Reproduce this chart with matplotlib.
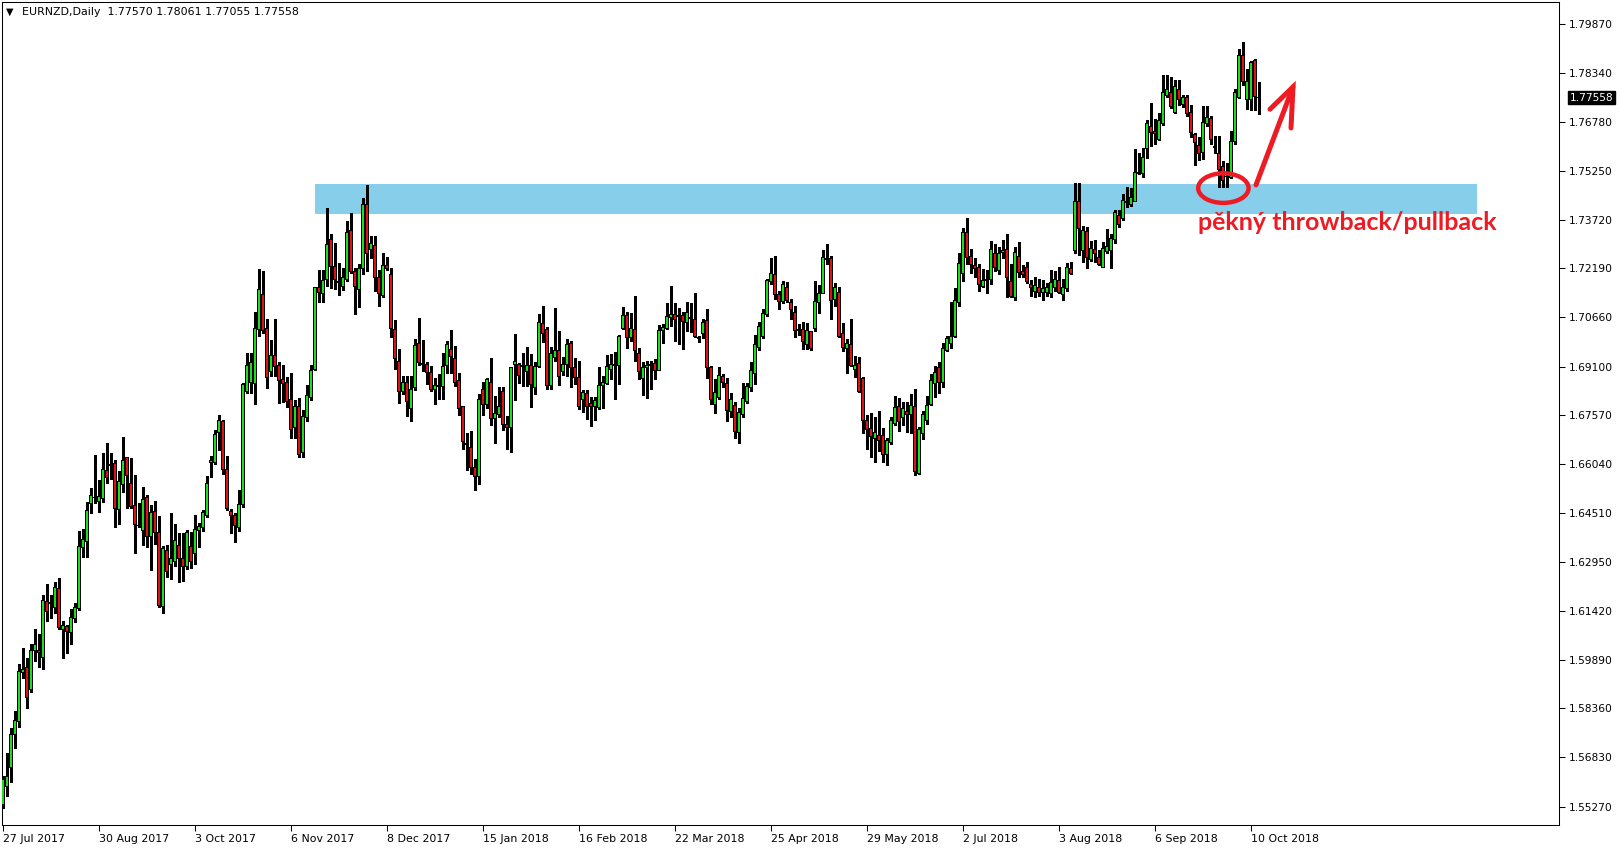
import matplotlib
matplotlib.use("Agg")
import matplotlib.pyplot as plt
from matplotlib.patches import Ellipse, Rectangle
import pandas as pd

# EURNZD daily, 27 Jul 2017 - 12 Oct 2018 (market closed 25 Dec and 1 Jan)
symbol = "EURNZD,Daily"
first_day = "2017-07-27"
last_day = "2018-10-12"
closed_days = ["2017-12-25", "2018-01-01"]

opens = [
    1.5532, 1.5589, 1.5651, 1.5752, 1.5793, 1.5947, 1.5963, 1.5896, 1.6016, 1.6019,
    1.5994, 1.6170, 1.6167, 1.6154, 1.6211, 1.6085, 1.6094, 1.6073, 1.6117, 1.6148,
    1.6340, 1.6359, 1.6481, 1.6497, 1.6487, 1.6494, 1.6582, 1.6601, 1.6604, 1.6462,
    1.6538, 1.6623, 1.6541, 1.6472, 1.6412, 1.6396, 1.6500, 1.6377, 1.6456, 1.6390,
    1.6157, 1.6333, 1.6289, 1.6296, 1.6349, 1.6308, 1.6280, 1.6343, 1.6321, 1.6396,
    1.6403, 1.6443, 1.6610, 1.6610, 1.6704, 1.6736, 1.6585, 1.6456, 1.6443, 1.6403,
    1.6475, 1.6833, 1.6861, 1.6858, 1.7025, 1.7138, 1.7031, 1.6893, 1.6946, 1.6912,
    1.6868, 1.6861, 1.6805, 1.6720, 1.6786, 1.6641, 1.6751, 1.6814, 1.6902, 1.7157,
    1.7141, 1.7185, 1.7311, 1.7226, 1.7176, 1.7163, 1.7185, 1.7339, 1.7210, 1.7151,
    1.7217, 1.7421, 1.7279, 1.7292, 1.7191, 1.7132, 1.7229, 1.7198, 1.7028, 1.6927,
    1.6833, 1.6861, 1.6777, 1.6843, 1.6981, 1.6921, 1.6918, 1.6890, 1.6839, 1.6846,
    1.6846, 1.6912, 1.6965, 1.6934, 1.6865, 1.6783, 1.6667, 1.6657, 1.6594, 1.6563,
    1.6839, 1.6792, 1.6861, 1.6748, 1.6758, 1.6833, 1.6729, 1.6717, 1.6918, 1.6915,
    1.6909, 1.6893, 1.6912, 1.6843, 1.6909, 1.7044, 1.7025, 1.6852, 1.6937, 1.6962,
    1.6896, 1.6915, 1.6981, 1.6906, 1.6877, 1.6805, 1.6824, 1.6795, 1.6783, 1.6780,
    1.6849, 1.6858, 1.6902, 1.6912, 1.6912, 1.7031, 1.7069, 1.7000, 1.7028, 1.6952,
    1.6874, 1.6906, 1.6912, 1.6921, 1.6899, 1.7022, 1.7031, 1.7063, 1.7075, 1.7069,
    1.7069, 1.7050, 1.7063, 1.7059, 1.7000, 1.7015, 1.7056, 1.6906, 1.6792, 1.6814,
    1.6880, 1.6858, 1.6770, 1.6789, 1.6704, 1.6758, 1.6799, 1.6843, 1.6887, 1.6971,
    1.7006, 1.7075, 1.7176, 1.7198, 1.7138, 1.7116, 1.7157, 1.7110, 1.7081, 1.7022,
    1.7025, 1.6978, 1.7019, 1.7031, 1.7110, 1.7141, 1.7251, 1.7251, 1.7122, 1.7144,
    1.7015, 1.6968, 1.6978, 1.6902, 1.6921, 1.6874, 1.6739, 1.6714, 1.6685, 1.6692,
    1.6692, 1.6635, 1.6670, 1.6732, 1.6783, 1.6751, 1.6770, 1.6758, 1.6783, 1.6575,
    1.6701, 1.6739, 1.6792, 1.6858, 1.6906, 1.6861, 1.6962, 1.6981, 1.7003, 1.7110,
    1.7204, 1.7330, 1.7257, 1.7229, 1.7220, 1.7163, 1.7179, 1.7185, 1.7267, 1.7213,
    1.7270, 1.7279, 1.7176, 1.7126, 1.7257, 1.7210, 1.7220, 1.7169, 1.7147, 1.7157,
    1.7144, 1.7144, 1.7141, 1.7157, 1.7182, 1.7135, 1.7154, 1.7217, 1.7276, 1.7430,
    1.7276, 1.7336, 1.7248, 1.7279, 1.7254, 1.7223, 1.7273, 1.7276, 1.7308, 1.7386,
    1.7377, 1.7427, 1.7418, 1.7430, 1.7518, 1.7518, 1.7594, 1.7666, 1.7650, 1.7625,
    1.7675, 1.7763, 1.7770, 1.7710, 1.7782, 1.7735, 1.7757, 1.7710, 1.7638, 1.7606,
    1.7584, 1.7675, 1.7691, 1.7600, 1.7581, 1.7540, 1.7509, 1.7503, 1.7616, 1.7757,
    1.7889, 1.7751, 1.7748, 1.7873, 1.77570,
]
highs = [
    1.5623, 1.5695, 1.5774, 1.5827, 1.5975, 1.6025, 1.5994, 1.6038, 1.6085, 1.6069,
    1.6192, 1.6227, 1.6192, 1.6233, 1.6245, 1.6110, 1.6098, 1.6148, 1.6167, 1.6393,
    1.6399, 1.6484, 1.6528, 1.6632, 1.6553, 1.6638, 1.6670, 1.6638, 1.6616, 1.6582,
    1.6689, 1.6626, 1.6623, 1.6569, 1.6481, 1.6531, 1.6506, 1.6475, 1.6487, 1.6440,
    1.6346, 1.6349, 1.6450, 1.6415, 1.6387, 1.6387, 1.6396, 1.6390, 1.6443, 1.6418,
    1.6459, 1.6566, 1.6629, 1.6711, 1.6758, 1.6742, 1.6629, 1.6462, 1.6450, 1.6522,
    1.6858, 1.6952, 1.6952, 1.7081, 1.7217, 1.7210, 1.7059, 1.6993, 1.7059, 1.6924,
    1.6915, 1.6877, 1.6890, 1.6805, 1.6811, 1.6773, 1.6852, 1.6915, 1.7160, 1.7213,
    1.7213, 1.7408, 1.7327, 1.7298, 1.7235, 1.7220, 1.7367, 1.7393, 1.7220, 1.7232,
    1.7440, 1.7481, 1.7320, 1.7320, 1.7213, 1.7267, 1.7254, 1.7220, 1.7056, 1.6965,
    1.6880, 1.6880, 1.6880, 1.6997, 1.7063, 1.6993, 1.6924, 1.6912, 1.6874, 1.6887,
    1.6952, 1.6990, 1.7025, 1.6975, 1.6890, 1.6786, 1.6701, 1.6707, 1.6619, 1.6824,
    1.6861, 1.6874, 1.6937, 1.6817, 1.6846, 1.6846, 1.6754, 1.6909, 1.7012, 1.6921,
    1.6952, 1.6971, 1.6949, 1.6924, 1.7075, 1.7100, 1.7034, 1.6971, 1.7094, 1.7022,
    1.6940, 1.6997, 1.6990, 1.6937, 1.6927, 1.6836, 1.6836, 1.6814, 1.6814, 1.6909,
    1.6880, 1.6946, 1.6949, 1.6956, 1.7009, 1.7097, 1.7081, 1.7078, 1.7132, 1.6968,
    1.6924, 1.6927, 1.6927, 1.6934, 1.7041, 1.7044, 1.7110, 1.7163, 1.7110, 1.7094,
    1.7081, 1.7113, 1.7110, 1.7141, 1.7006, 1.7059, 1.7091, 1.6912, 1.6871, 1.6909,
    1.6887, 1.6874, 1.6827, 1.6799, 1.6780, 1.6858, 1.6858, 1.6924, 1.7009, 1.7050,
    1.7091, 1.7185, 1.7251, 1.7257, 1.7147, 1.7179, 1.7176, 1.7122, 1.7100, 1.7044,
    1.7050, 1.7047, 1.7022, 1.7179, 1.7166, 1.7276, 1.7295, 1.7257, 1.7173, 1.7160,
    1.7047, 1.6997, 1.7059, 1.6943, 1.6940, 1.6877, 1.6758, 1.6764, 1.6751, 1.6770,
    1.6717, 1.6685, 1.6751, 1.6817, 1.6811, 1.6799, 1.6799, 1.6824, 1.6839, 1.6720,
    1.6770, 1.6817, 1.6887, 1.6912, 1.6924, 1.6984, 1.7006, 1.7113, 1.7157, 1.7267,
    1.7345, 1.7377, 1.7279, 1.7251, 1.7232, 1.7217, 1.7213, 1.7304, 1.7295, 1.7286,
    1.7308, 1.7327, 1.7232, 1.7286, 1.7301, 1.7228, 1.7239, 1.7182, 1.7191, 1.7185,
    1.7182, 1.7173, 1.7213, 1.7210, 1.7223, 1.7185, 1.7235, 1.7239, 1.7487, 1.7487,
    1.7352, 1.7349, 1.7304, 1.7308, 1.7276, 1.7301, 1.7342, 1.7327, 1.7402, 1.7402,
    1.7452, 1.7474, 1.7471, 1.7594, 1.7581, 1.7597, 1.7685, 1.7738, 1.7688, 1.7707,
    1.7826, 1.7826, 1.7820, 1.7811, 1.7811, 1.7763, 1.7763, 1.7732, 1.7644, 1.7631,
    1.7729, 1.7729, 1.7697, 1.7635, 1.7635, 1.7556, 1.7550, 1.7650, 1.7782, 1.7908,
    1.7930, 1.7845, 1.7870, 1.7876, 1.78061,
]
lows = [
    1.5523, 1.5560, 1.5604, 1.5711, 1.5777, 1.5931, 1.5837, 1.5887, 1.5984, 1.5966,
    1.5959, 1.6110, 1.6120, 1.6135, 1.6085, 1.5994, 1.6010, 1.6038, 1.6107, 1.6145,
    1.6311, 1.6311, 1.6450, 1.6481, 1.6453, 1.6484, 1.6544, 1.6557, 1.6406, 1.6415,
    1.6516, 1.6465, 1.6465, 1.6324, 1.6406, 1.6349, 1.6343, 1.6271, 1.6352, 1.6154,
    1.6135, 1.6249, 1.6242, 1.6283, 1.6233, 1.6236, 1.6274, 1.6277, 1.6289, 1.6343,
    1.6393, 1.6437, 1.6563, 1.6604, 1.6648, 1.6572, 1.6459, 1.6387, 1.6359, 1.6393,
    1.6469, 1.6827, 1.6827, 1.6792, 1.7006, 1.7015, 1.6843, 1.6880, 1.6880, 1.6795,
    1.6799, 1.6783, 1.6685, 1.6685, 1.6626, 1.6626, 1.6739, 1.6805, 1.6899, 1.7113,
    1.7113, 1.7163, 1.7157, 1.7154, 1.7135, 1.7151, 1.7179, 1.7204, 1.7075, 1.7097,
    1.7201, 1.7210, 1.7251, 1.7147, 1.7100, 1.7129, 1.7213, 1.7003, 1.6902, 1.6795,
    1.6824, 1.6754, 1.6739, 1.6836, 1.6915, 1.6896, 1.6855, 1.6833, 1.6792, 1.6808,
    1.6808, 1.6890, 1.6890, 1.6849, 1.6758, 1.6651, 1.6585, 1.6572, 1.6522, 1.6541,
    1.6758, 1.6780, 1.6726, 1.6670, 1.6751, 1.6711, 1.6651, 1.6641, 1.6805, 1.6858,
    1.6849, 1.6849, 1.6783, 1.6824, 1.6908, 1.6987, 1.6839, 1.6839, 1.6927, 1.6852,
    1.6883, 1.6880, 1.6846, 1.6855, 1.6777, 1.6767, 1.6745, 1.6723, 1.6742, 1.6777,
    1.6780, 1.6855, 1.6871, 1.6808, 1.6855, 1.7028, 1.6968, 1.6990, 1.6927, 1.6871,
    1.6820, 1.6811, 1.6839, 1.6871, 1.6898, 1.6984, 1.7028, 1.7037, 1.6990, 1.6981,
    1.6965, 1.7022, 1.7019, 1.7003, 1.6987, 1.7000, 1.6874, 1.6792, 1.6764, 1.6808,
    1.6846, 1.6739, 1.6751, 1.6685, 1.6670, 1.6751, 1.6795, 1.6833, 1.6855, 1.6962,
    1.7000, 1.7069, 1.7169, 1.7122, 1.7091, 1.7110, 1.7113, 1.7059, 1.7003, 1.7009,
    1.6965, 1.6965, 1.6962, 1.7022, 1.7078, 1.7140, 1.7232, 1.7059, 1.7100, 1.7004,
    1.6959, 1.6890, 1.6911, 1.6877, 1.6830, 1.6701, 1.6651, 1.6626, 1.6610, 1.6645,
    1.6610, 1.6601, 1.6667, 1.6726, 1.6707, 1.6726, 1.6704, 1.6701, 1.6569, 1.6572,
    1.6682, 1.6729, 1.6789, 1.6814, 1.6827, 1.6846, 1.6959, 1.6968, 1.7002, 1.7100,
    1.7179, 1.7232, 1.7204, 1.7191, 1.7147, 1.7160, 1.7141, 1.7169, 1.7210, 1.7201,
    1.7251, 1.7129, 1.7129, 1.7119, 1.7191, 1.7191, 1.7173, 1.7132, 1.7129, 1.7132,
    1.7119, 1.7132, 1.7129, 1.7147, 1.7141, 1.7119, 1.7147, 1.7201, 1.7267, 1.7261,
    1.7239, 1.7220, 1.7242, 1.7239, 1.7229, 1.7222, 1.7267, 1.7220, 1.7298, 1.7349,
    1.7371, 1.7411, 1.7415, 1.7429, 1.7515, 1.7506, 1.7567, 1.7603, 1.7609, 1.7622,
    1.7669, 1.7757, 1.7723, 1.7707, 1.7732, 1.7726, 1.7697, 1.7631, 1.7543, 1.7559,
    1.7562, 1.7666, 1.7609, 1.7581, 1.7474, 1.7474, 1.7474, 1.7502, 1.7609, 1.7754,
    1.7795, 1.7719, 1.7716, 1.7716, 1.77055,
]
closes = [
    1.5611, 1.5620, 1.5755, 1.5799, 1.5953, 1.5959, 1.5871, 1.6016, 1.6035, 1.6010,
    1.6176, 1.6139, 1.6166, 1.6214, 1.6091, 1.6095, 1.6076, 1.6120, 1.6154, 1.6343,
    1.6368, 1.6459, 1.6506, 1.6500, 1.6503, 1.6588, 1.6560, 1.6600, 1.6465, 1.6550,
    1.6616, 1.6569, 1.6469, 1.6415, 1.6411, 1.6491, 1.6377, 1.6450, 1.6387, 1.6160,
    1.6337, 1.6267, 1.6308, 1.6362, 1.6308, 1.6280, 1.6387, 1.6296, 1.6399, 1.6406,
    1.6450, 1.6544, 1.6616, 1.6698, 1.6742, 1.6588, 1.6465, 1.6443, 1.6409, 1.6475,
    1.6855, 1.6912, 1.6924, 1.7031, 1.7151, 1.7022, 1.6877, 1.6946, 1.6909, 1.6865,
    1.6858, 1.6799, 1.6711, 1.6783, 1.6635, 1.6754, 1.6820, 1.6899, 1.7157, 1.7144,
    1.7182, 1.7295, 1.7226, 1.7185, 1.7175, 1.7191, 1.7333, 1.7210, 1.7163, 1.7217,
    1.7421, 1.7267, 1.7298, 1.7191, 1.7141, 1.7229, 1.7217, 1.7031, 1.6934, 1.6833,
    1.6861, 1.6799, 1.6839, 1.6975, 1.6924, 1.6915, 1.6890, 1.6839, 1.6852, 1.6849,
    1.6909, 1.6978, 1.6943, 1.6861, 1.6777, 1.6673, 1.6666, 1.6594, 1.6563, 1.6808,
    1.6792, 1.6868, 1.6748, 1.6761, 1.6786, 1.6729, 1.6720, 1.6906, 1.6927, 1.6883,
    1.6912, 1.6912, 1.6855, 1.6909, 1.7047, 1.7015, 1.6852, 1.6952, 1.6962, 1.6880,
    1.6918, 1.6978, 1.6906, 1.6877, 1.6786, 1.6827, 1.6786, 1.6783, 1.6802, 1.6852,
    1.6861, 1.6909, 1.6915, 1.6918, 1.7003, 1.7069, 1.7000, 1.7031, 1.6959, 1.6893,
    1.6906, 1.6912, 1.6918, 1.6899, 1.7022, 1.7034, 1.7066, 1.7075, 1.7059, 1.7068,
    1.7053, 1.7081, 1.7062, 1.7006, 1.6999, 1.7050, 1.6906, 1.6805, 1.6830, 1.6883,
    1.6861, 1.6773, 1.6805, 1.6707, 1.6767, 1.6811, 1.6846, 1.6899, 1.6978, 1.7037,
    1.7078, 1.7182, 1.7204, 1.7138, 1.7113, 1.7169, 1.7119, 1.7088, 1.7022, 1.7028,
    1.6990, 1.7022, 1.6968, 1.7113, 1.7141, 1.7254, 1.7248, 1.7119, 1.7157, 1.7006,
    1.6971, 1.6984, 1.6912, 1.6912, 1.6833, 1.6742, 1.6711, 1.6689, 1.6704, 1.6679,
    1.6635, 1.6679, 1.6742, 1.6780, 1.6736, 1.6777, 1.6758, 1.6789, 1.6579, 1.6711,
    1.6758, 1.6789, 1.6865, 1.6890, 1.6861, 1.6968, 1.6997, 1.7003, 1.7119, 1.7235,
    1.7333, 1.7254, 1.7232, 1.7217, 1.7169, 1.7182, 1.7185, 1.7279, 1.7220, 1.7264,
    1.7276, 1.7191, 1.7130, 1.7270, 1.7207, 1.7198, 1.7176, 1.7157, 1.7166, 1.7144,
    1.7154, 1.7157, 1.7173, 1.7185, 1.7144, 1.7157, 1.7220, 1.7204, 1.7430, 1.7345,
    1.7339, 1.7254, 1.7282, 1.7267, 1.7232, 1.7282, 1.7286, 1.7314, 1.7393, 1.7358,
    1.7433, 1.7430, 1.7443, 1.7521, 1.7521, 1.7567, 1.7675, 1.7647, 1.7644, 1.7685,
    1.7770, 1.7782, 1.7726, 1.7789, 1.7751, 1.7757, 1.7707, 1.7647, 1.7613, 1.7581,
    1.7678, 1.7694, 1.7625, 1.7603, 1.7528, 1.7496, 1.7508, 1.7619, 1.7773, 1.7889,
    1.7805, 1.7805, 1.7867, 1.7760, 1.77558,
]

price_ticks = [1.79870, 1.78340, 1.76780, 1.75250, 1.73720, 1.72190, 1.70660, 1.69100,
               1.67570, 1.66040, 1.64510, 1.62950, 1.61420, 1.59890, 1.58360, 1.56830,
               1.55270]
date_label_every = 24

# zone drawn by hand on the chart (bar index range, price range)
zone_bars = (78, 368.5)
zone_prices = (1.7391, 1.7485)
note = "pěkný throwback/pullback"

days = pd.bdate_range(first_day, last_day)
days = days[~days.isin(pd.to_datetime(closed_days))]
assert len(days) == len(opens) == len(highs) == len(lows) == len(closes)

x = list(range(len(opens)))
GREEN = "#1fdc1f"
RED = "#d81414"
PAINT_RED = "#ed1c24"

W, H = 1621, 850
fig = plt.figure(figsize=(W / 100, H / 100), dpi=100)
ax = fig.add_axes([2 / W, 25 / H, 1557 / W, 823 / H])
ax.set_xlim(-0.25, 389)
ax.set_ylim(1.5469, 1.8056)
px = (1.8056 - 1.5469) / 823  # one screen pixel in price

ax.add_patch(Rectangle((zone_bars[0], zone_prices[0]), zone_bars[1] - zone_bars[0],
                       zone_prices[1] - zone_prices[0], facecolor="#87ceeb",
                       edgecolor="none", zorder=1))

# wicks, then black body outline, then coloured inside of the body
ax.vlines(x, lows, highs, color="black", linewidth=0.75, zorder=2, antialiased=False)
bottoms = [min(o, c) - 0.5 * px for o, c in zip(opens, closes)]
heights = [abs(c - o) + px for o, c in zip(opens, closes)]
ax.bar(x, heights, bottom=bottoms, width=0.8, color="black", linewidth=0,
       zorder=3, antialiased=False)
inner = [(i, o, c) for i, o, c in zip(x, opens, closes) if abs(c - o) > 1.5 * px]
ax.bar([i for i, o, c in inner], [abs(c - o) - px for i, o, c in inner],
       bottom=[min(o, c) + 0.5 * px for i, o, c in inner], width=0.42,
       color=[GREEN if c >= o else RED for i, o, c in inner], linewidth=0,
       zorder=4, antialiased=False)

# price scale on the right
ax.yaxis.tick_right()
ax.set_yticks(price_ticks)
ax.set_yticklabels([f"{p:.5f}" for p in price_ticks])
ax.tick_params(axis="y", direction="out", length=4, width=0.75, labelsize=7.7, pad=3.3)

# date scale
pos = x[::date_label_every]
ax.set_xticks(pos)
ax.set_xticklabels([f"{d.day} {d.strftime('%b %Y')}" for d in days[::date_label_every]],
                   ha="left")
ax.tick_params(axis="x", direction="out", length=4, width=0.75, labelsize=7.9, pad=2.2)

for s in ax.spines.values():
    s.set_linewidth(0.75)

# last price marker
ax.annotate(f"{closes[-1]:.5f}", xy=(1, closes[-1]), xycoords=("axes fraction", "data"),
            xytext=(7.5, 0), textcoords="offset points", ha="left", va="center",
            fontsize=7.7, color="white",
            bbox=dict(boxstyle="square,pad=0.14", fc="black", ec="black"))

# header
fig.text(6 / W, 1 - 12 / H, "▼", fontsize=7, va="center", ha="left")
fig.text(22 / W, 1 - 12 / H,
         f"{symbol}  {opens[-1]:.5f} {highs[-1]:.5f} {lows[-1]:.5f} {closes[-1]:.5f}",
         fontsize=7.9, va="center", ha="left")

# hand drawn annotation
ax.add_patch(Ellipse((305.1, 1.7471), width=12.6, height=0.0093, fill=False,
                     edgecolor=PAINT_RED, linewidth=3.2, zorder=5))
ax.plot([313.25, 322.5], [1.7481, 1.7789], color=PAINT_RED, linewidth=3.6,
        solid_capstyle="round", zorder=5)
ax.plot([316.75, 322.5, 322.0], [1.7719, 1.7789, 1.7660], color=PAINT_RED,
        linewidth=3.6, solid_capstyle="round", solid_joinstyle="miter", zorder=5)
ax.text(298.75, 1.7339, note, color=PAINT_RED, fontsize=18, fontweight="bold",
        family="Lato", ha="left", va="baseline", zorder=5)

fig.savefig("out.png", dpi=100)
